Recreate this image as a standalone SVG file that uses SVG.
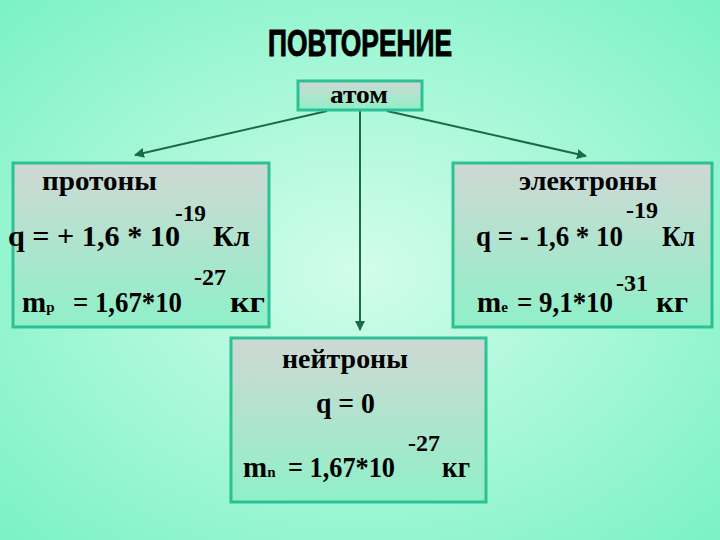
<svg xmlns="http://www.w3.org/2000/svg" width="720" height="540" viewBox="0 0 720 540">
<defs>
<radialGradient id="bg" cx="50%" cy="50%" r="70%">
<stop offset="0" stop-color="#d2fdea"/>
<stop offset="1" stop-color="#7cf2c6"/>
</radialGradient>
<linearGradient id="box" x1="0" y1="0" x2="0" y2="1">
<stop offset="0" stop-color="#cfd8d4"/>
<stop offset="1" stop-color="#8ff0c8"/>
</linearGradient>
<marker id="arr" viewBox="0 0 10 10" refX="9" refY="5" markerWidth="5" markerHeight="5" orient="auto">
<path d="M0,0 L10,5 L0,10 z" fill="#1b6b45"/>
</marker>
<style>
.bx{fill:url(#box);stroke:#2cc195;stroke-width:3}
.c{stroke:#1b6b45;stroke-width:2;fill:none}
</style>
</defs>
<rect width="720" height="540" fill="url(#bg)"/>
<text x="360" y="56" text-anchor="middle" font-family="Liberation Sans, Arial, sans-serif" font-weight="bold" font-size="36" textLength="184" lengthAdjust="spacingAndGlyphs" fill="#000" stroke="#000" stroke-width="1">ПОВТОРЕНИЕ</text>
<g id="connectors">
<line class="c" x1="327" y1="111" x2="135" y2="155" marker-end="url(#arr)"/>
<line class="c" x1="387" y1="111" x2="586" y2="156" marker-end="url(#arr)"/>
<line class="c" x1="360" y1="111" x2="360" y2="330" marker-end="url(#arr)"/>
</g>
<g font-family="Liberation Serif, Times New Roman, serif" font-weight="bold" fill="#000">
<g id="atom">
<rect class="bx" x="298" y="81" width="124" height="29"/>
<text x="330" y="103" font-size="25" textLength="58" lengthAdjust="spacingAndGlyphs">атом</text>
</g>
<g id="protons">
<rect class="bx" x="13" y="163" width="256" height="164"/>
<text x="42" y="190" font-size="28" textLength="115" lengthAdjust="spacingAndGlyphs">протоны</text>
<text x="8" y="246" font-size="29" textLength="172" lengthAdjust="spacingAndGlyphs">q = + 1,6 * 10</text>
<text x="175" y="221" font-size="24" textLength="31" lengthAdjust="spacingAndGlyphs">-19</text>
<text x="213" y="246" font-size="29" textLength="37" lengthAdjust="spacingAndGlyphs">Кл</text>
<text x="22" y="312" font-size="29">m<tspan font-size="15">p</tspan></text>
<text x="73" y="312" font-size="29" textLength="109" lengthAdjust="spacingAndGlyphs">= 1,67*10</text>
<text x="194" y="285" font-size="24" textLength="32" lengthAdjust="spacingAndGlyphs">-27</text>
<text x="230" y="312" font-size="29" textLength="35" lengthAdjust="spacingAndGlyphs">кг</text>
</g>
<g id="electrons">
<rect class="bx" x="453" y="163" width="259" height="164"/>
<text x="519" y="190" font-size="28" textLength="138" lengthAdjust="spacingAndGlyphs">электроны</text>
<text x="476" y="246" font-size="29" textLength="147" lengthAdjust="spacingAndGlyphs">q = - 1,6 * 10</text>
<text x="626" y="218" font-size="24" textLength="32" lengthAdjust="spacingAndGlyphs">-19</text>
<text x="662" y="246" font-size="29" textLength="33" lengthAdjust="spacingAndGlyphs">Кл</text>
<text x="477" y="312" font-size="29">m<tspan font-size="15">e</tspan></text>
<text x="517" y="312" font-size="29" textLength="96" lengthAdjust="spacingAndGlyphs">= 9,1*10</text>
<text x="616" y="291" font-size="24" textLength="32" lengthAdjust="spacingAndGlyphs">-31</text>
<text x="656" y="312" font-size="29" textLength="32" lengthAdjust="spacingAndGlyphs">кг</text>
</g>
<g id="neutrons">
<rect class="bx" x="231" y="338" width="255" height="164"/>
<text x="282" y="368" font-size="28" textLength="126" lengthAdjust="spacingAndGlyphs">нейтроны</text>
<text x="316" y="413" font-size="29" textLength="59" lengthAdjust="spacingAndGlyphs">q = 0</text>
<text x="243" y="477" font-size="29">m<tspan font-size="15">n</tspan></text>
<text x="288" y="477" font-size="29" textLength="107" lengthAdjust="spacingAndGlyphs">= 1,67*10</text>
<text x="408" y="451" font-size="24" textLength="32" lengthAdjust="spacingAndGlyphs">-27</text>
<text x="442" y="477" font-size="29" textLength="28" lengthAdjust="spacingAndGlyphs">кг</text>
</g>
</g>
</svg>
